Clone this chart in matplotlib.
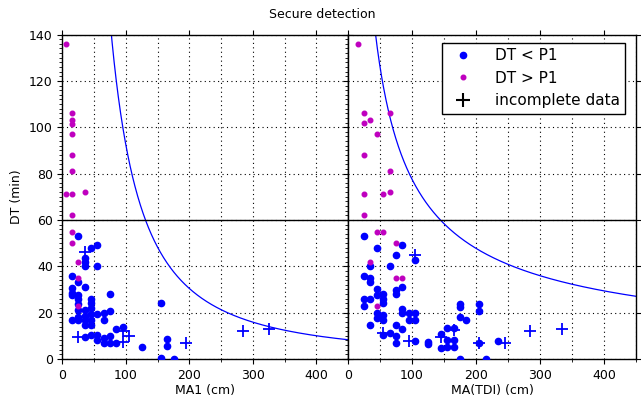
import matplotlib.pyplot as plt
import numpy as np
from matplotlib.ticker import MultipleLocator

# MA1 panel
ma1_lo = [25, 45, 55, 35, 35, 35, 55, 15, 25, 35, 15, 15, 15, 25, 25, 25, 75, 45, 45, 45,
          25, 35, 35, 15, 25, 35, 45, 45, 55, 65, 75, 65, 35, 45, 25, 85, 95, 35, 45, 55,
          55, 65, 65, 75, 75, 85, 125, 155, 155, 165, 165, 175]
dt1_lo = [53, 48, 49, 43.4, 42, 40, 40, 36, 33.4, 31, 30.5, 28.3, 27.6, 27.6, 25.7, 23.6, 28, 25.7, 24, 22,
          21, 21, 18.7, 17, 17, 17, 19.4, 17, 19.4, 20, 20.7, 17, 14.7, 14.7, 18.2, 12.8, 13.7, 9.3, 10.4, 10.4,
          8.2, 9, 7, 9.8, 7, 7, 5, 24, 0.3, 8.6, 5.7, 0]
ma1_hi = [5, 15, 15, 15, 15, 15, 15, 5, 15, 35, 15, 15, 15, 25, 25, 25]
dt1_hi = [136, 106, 103, 101.5, 97, 88, 81, 71, 71, 72, 62, 55, 50, 42, 35, 23]
ma1_inc = [35, 25, 95, 105, 95, 195, 285, 325]
dt1_inc = [46, 9.3, 12, 10, 7.5, 7, 12, 13]

# MA(TDI) panel
tdi_lo = [25, 45, 85, 75, 105, 35, 65, 25, 35, 35, 45, 45, 55, 55, 55, 75, 75, 85, 25, 35,
          25, 45, 45, 55, 55, 85, 85, 95, 105, 95, 105, 35, 75, 85, 65, 75, 75, 55, 105, 125,
          125, 145, 155, 165, 145, 155, 165, 155, 165, 175, 175, 205, 205, 175, 185, 205, 235, 175, 215]
dt2_lo = [53, 48, 49, 45, 42.7, 40, 40, 36, 35, 33, 30, 27.6, 28, 26, 24, 29.8, 28, 31, 25.8, 25.8,
          23, 20, 17.5, 19, 17, 21.6, 20, 20, 20, 17, 17, 14.7, 14.7, 12.8, 11, 10, 7, 10.4, 7.8, 7.5,
          6.5, 10.7, 13.5, 13.5, 4.6, 5.3, 5.3, 8.2, 8.2, 23.7, 22.6, 23.7, 20.7, 18, 16.8, 7, 7.8, 0, 0]
tdi_hi = [15, 25, 65, 35, 25, 45, 25, 65, 25, 55, 65, 25, 45, 55, 75, 35, 75, 85, 45]
dt2_hi = [136, 106, 106, 103, 102, 97, 88, 81, 71, 71, 72, 62, 55, 55, 50, 42, 35, 35, 23]
tdi_inc = [105, 55, 95, 145, 165, 205, 245, 285, 335]
dt2_inc = [45, 11, 7.8, 9.6, 12.5, 7, 7, 12, 13]

# threshold curves DT = C * MA**p
p1_curve1 = (146000, -1.6)
p1_curve2 = (1948, -0.7)
p1_level = 60

plt.rcParams['font.family'] = 'DejaVu Sans'
fig = plt.figure(figsize=(6.41, 3.99), dpi=100)
ax1 = fig.add_axes([0.0975, 0.1003, 0.4455, 0.8132])
ax2 = fig.add_axes([0.543, 0.1003, 0.449, 0.8132], sharey=ax1)

panels = [
    (ax1, ma1_lo, dt1_lo, ma1_hi, dt1_hi, ma1_inc, dt1_inc, p1_curve1, "MA1 (cm)"),
    (ax2, tdi_lo, dt2_lo, tdi_hi, dt2_hi, tdi_inc, dt2_inc, p1_curve2, "MA(TDI) (cm)"),
]
for ax, xl, yl, xh, yh, xi, yi, (c, p), xlabel in panels:
    ax.plot(xl, yl, 'o', color='b', mec='b', ms=4.5, label='DT < P1', zorder=3)
    ax.plot(xh, yh, 'o', color=(0.75, 0, 0.75), mec=(0.75, 0, 0.75), ms=3.3,
            label='DT > P1', zorder=3)
    ax.plot(xi, yi, '+', color='b', ms=8, mew=1.3, label='incomplete data', zorder=4)
    xs = np.linspace(20, 450, 800)
    ax.plot(xs, c * xs ** p, color='b', lw=0.9, zorder=2)
    ax.axhline(p1_level, color='k', lw=1.0, zorder=2)
    ax.set_xlim(0, 450)
    ax.set_ylim(0, 140)
    ax.xaxis.set_major_locator(MultipleLocator(100))
    ax.xaxis.set_minor_locator(MultipleLocator(50))
    ax.yaxis.set_major_locator(MultipleLocator(20))
    ax.yaxis.set_minor_locator(MultipleLocator(2))
    ax.grid(True, which='major', color='k', ls=(0, (1, 3)), lw=0.8)
    ax.grid(True, which='minor', axis='x', color='k', ls=(0, (1, 3)), lw=0.8)
    ax.tick_params(labelsize=9, direction='out', top=True, right=True)
    ax.tick_params(which='minor', length=2)
    ax.set_xlabel(xlabel, fontsize=9, labelpad=2)
    for s in ax.spines.values():
        s.set_linewidth(1.0)

ax2.tick_params(labelleft=False)
ax1.set_ylabel("DT (min)", fontsize=9)
fig.text(0.503, 0.955, "Secure detection", ha='center', fontsize=9)

h, l = ax2.get_legend_handles_labels()
h[2] = plt.Line2D([], [], marker='+', color='k', ls='', ms=10, mew=1.5)
leg = ax2.legend(h, l, loc='upper right', fontsize=11, numpoints=1,
                 fancybox=False, framealpha=1, edgecolor='k', borderpad=0.35,
                 handletextpad=1.1, labelspacing=0.5, bbox_to_anchor=(0.99, 0.998))
leg.get_frame().set_linewidth(1.0)

fig.savefig("out.png", dpi=100)
